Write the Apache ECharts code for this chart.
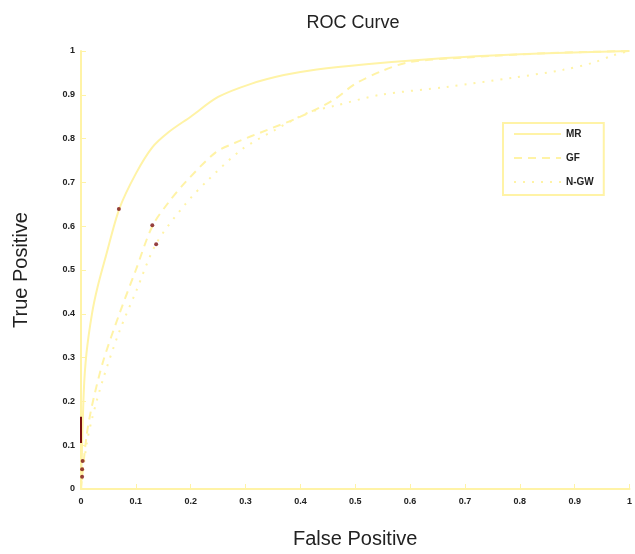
<!DOCTYPE html>
<html>
<head>
<meta charset="utf-8">
<script src="https://cdn.jsdelivr.net/npm/echarts@6/dist/echarts.min.js"></script>
<style>html,body{margin:0;padding:0;background:#fff}#c{width:635px;height:554px}</style>
</head>
<body>
<div id="c"></div>
<script>
const seriesNames = ['MR', 'GF', 'N-GW'];
const mrX = [0, 0.005, 0.01, 0.02, 0.03, 0.045, 0.07, 0.1, 0.13, 0.16, 0.2, 0.25, 0.31, 0.37, 0.43, 0.52, 0.64, 0.75, 0.85, 1];
const mrY = [0, 0.22, 0.31, 0.4, 0.46, 0.53, 0.64, 0.72, 0.78, 0.815, 0.85, 0.895, 0.925, 0.945, 0.958, 0.97, 0.982, 0.99, 0.995, 1];
const gfX = [0, 0.01, 0.02, 0.04, 0.07, 0.1, 0.13, 0.16, 0.19, 0.245, 0.28, 0.34, 0.4, 0.46, 0.5, 0.55, 0.6, 0.7, 0.85, 1];
const gfY = [0, 0.12, 0.19, 0.29, 0.40, 0.50, 0.60, 0.655, 0.70, 0.768, 0.79, 0.82, 0.85, 0.888, 0.925, 0.955, 0.975, 0.985, 0.995, 1];
const ngX = [0, 0.01, 0.02, 0.04, 0.07, 0.1, 0.137, 0.19, 0.233, 0.293, 0.354, 0.414, 0.463, 0.546, 0.667, 0.788, 0.879, 0.933, 0.97, 1];
const ngY = [0, 0.10, 0.16, 0.25, 0.36, 0.45, 0.56, 0.65, 0.707, 0.775, 0.82, 0.859, 0.875, 0.9, 0.918, 0.939, 0.957, 0.973, 0.99, 1];
const opX = [0.069, 0.13, 0.137, 0.003, 0.002, 0.002];
const opY = [0.639, 0.602, 0.559, 0.064, 0.045, 0.028];
const markX = [0, 0];
const markY = [0.105, 0.165];
const xTicks = ['0','0.1','0.2','0.3','0.4','0.5','0.6','0.7','0.8','0.9','1'];

const zip = (xs, ys) => xs.map((x, i) => [x, ys[i]]);
const lineColor = '#fff3a6';
const textColor = '#222';

const chart = echarts.init(document.getElementById('c'));
chart.setOption({
  backgroundColor: '#fff',
  animation: false,
  title: {
    text: 'ROC Curve', left: 348, top: 9, textAlign: 'center',
    textStyle: { fontFamily: 'Liberation Sans', fontSize: 18, fontWeight: 'normal', color: textColor }
  },
  grid: { left: 81, right: 1, top: 51, bottom: 63, containLabel: false },
  legend: {
    data: seriesNames,
    orient: 'vertical', left: 503, top: 123, width: 109,
    itemWidth: 47, itemHeight: 10, itemGap: 14,
    padding: [6, 10, 8, 10],
    borderColor: lineColor, borderWidth: 2,
    itemStyle: { opacity: 0 },
    textStyle: { fontFamily: 'Liberation Sans', fontSize: 10, color: textColor, fontWeight: 'bold' }
  },
  xAxis: {
    type: 'value', min: 0, max: 1, interval: 0.1,
    name: 'False Positive', nameLocation: 'middle', nameGap: 40,
    nameTextStyle: { fontFamily: 'Liberation Sans', fontSize: 20, color: textColor },
    axisLine: { show: true, lineStyle: { color: lineColor, width: 2 } },
    axisTick: { show: true, inside: true, length: 5, lineStyle: { color: lineColor } },
    axisLabel: { fontFamily: 'Liberation Sans', fontSize: 9, color: textColor, fontWeight: 'bold', margin: 8,
      formatter: v => xTicks[Math.round(v * 10)] },
    splitLine: { show: false }
  },
  yAxis: {
    type: 'value', min: 0, max: 1, interval: 0.1,
    name: 'True Positive', nameLocation: 'middle', nameGap: 50,
    nameTextStyle: { fontFamily: 'Liberation Sans', fontSize: 20, color: textColor },
    axisLine: { show: true, lineStyle: { color: lineColor, width: 2 } },
    axisTick: { show: true, inside: true, length: 5, lineStyle: { color: lineColor } },
    axisLabel: { fontFamily: 'Liberation Sans', fontSize: 9, color: textColor, fontWeight: 'bold', margin: 6,
      formatter: v => xTicks[Math.round(v * 10)] },
    splitLine: { show: false }
  },
  series: [
    { name: seriesNames[0], type: 'line', smooth: 0.3, symbol: 'none', data: zip(mrX, mrY),
      lineStyle: { color: lineColor, width: 2, type: 'solid' }, itemStyle: { color: lineColor } },
    { name: seriesNames[1], type: 'line', smooth: 0.3, symbol: 'none', data: zip(gfX, gfY),
      lineStyle: { color: lineColor, width: 2, type: [8, 6] }, itemStyle: { color: lineColor } },
    { name: seriesNames[2], type: 'line', smooth: 0.3, symbol: 'none', data: zip(ngX, ngY),
      lineStyle: { color: lineColor, width: 2, type: [2, 7] }, itemStyle: { color: lineColor } },
    { type: 'scatter', data: zip(opX, opY), symbolSize: 4, itemStyle: { color: '#7a1010' }, z: 5 },
    { type: 'line', data: zip(markX, markY), symbol: 'none', lineStyle: { color: '#7a1010', width: 2 }, z: 5 }
  ]
});
</script>
</body>
</html>
